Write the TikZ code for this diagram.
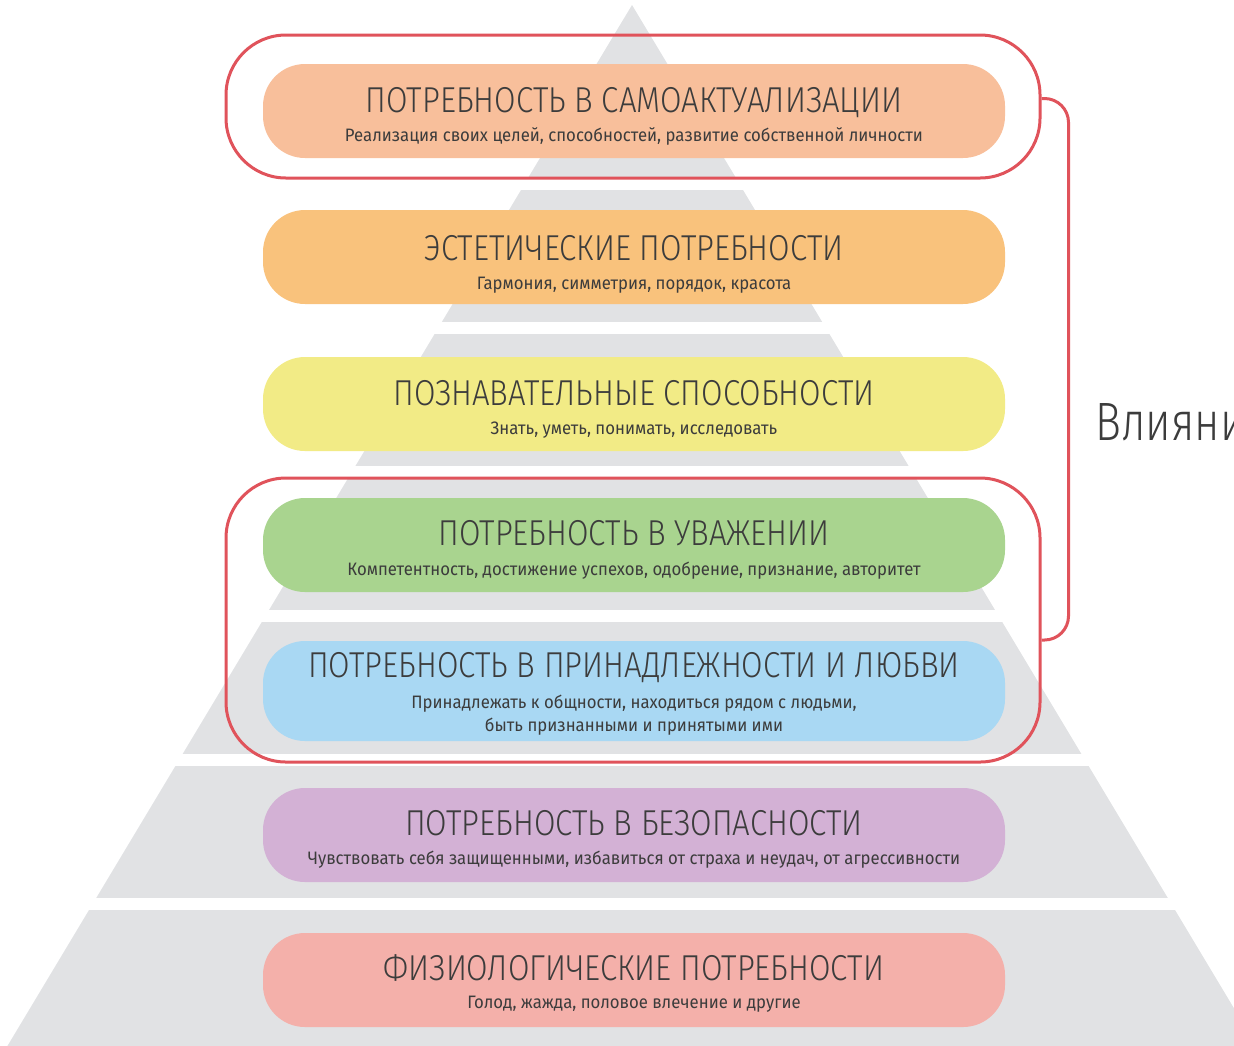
\documentclass[tikz,border=0pt]{standalone}
\usepackage{fontspec}
\setmainfont{Fira Sans}
\newfontfamily\titlefont[FakeStretch=0.865]{Fira Sans Light}
\newfontfamily\subfont[FakeStretch=0.93]{Fira Sans}
\newfontfamily\sidefont[FakeStretch=0.8]{Fira Sans Light}
\usetikzlibrary{positioning}
\definecolor{bandgray}{HTML}{E1E2E4}
\definecolor{linered}{HTML}{E0535B}
\definecolor{txtgray}{HTML}{3C3C3C}
\definecolor{pillself}{HTML}{F8BF9B}
\definecolor{pillaest}{HTML}{F9C27C}
\definecolor{pillcogn}{HTML}{F2EB86}
\definecolor{pillestm}{HTML}{A9D48F}
\definecolor{pilllove}{HTML}{A9D8F3}
\definecolor{pillsafe}{HTML}{D3B1D5}
\definecolor{pillphys}{HTML}{F4B0AA}
\begin{document}
\begin{tikzpicture}[x=0.5pt, y=-0.5pt,
    pill/.style={rounded corners=21pt, minimum width=371pt, minimum height=47pt, inner sep=0pt},
    ttl/.style={font=\titlefont\fontsize{18}{20}\selectfont, text=txtgray, anchor=base, inner sep=0pt},
    sub/.style={font=\subfont\fontsize{9}{11.5}\selectfont, text=txtgray, anchor=base, inner sep=0pt, align=center},
    grp/.style={draw=linered, line width=1.5pt, rounded corners=30pt, minimum width=407pt, inner sep=0pt},
    link/.style={draw=linered, line width=1.5pt, rounded corners=12pt}]
  \useasboundingbox (0,0) rectangle (1234,1045);
  \clip (0,0) rectangle (1234,1045);
  % pyramid: tip, then six trapezoid bands with white gaps
  \fill[bandgray] (632,5) -- (736,178) -- (528,178) -- cycle;
  \foreach \t in {190,334,478,622,766,910} {
    \pgfmathsetmacro\b{\t+140}
    \fill[bandgray] ({632-0.6*(\t-5)},\t) -- ({632+0.6*(\t-5)},\t)
      -- ({632+0.6*(\b-5)},\b) -- ({632-0.6*(\b-5)},\b) -- cycle;
  }
  \foreach \g in {322,466,610,754,898} {
    \fill[white] (0,\g) rectangle (1234,\g+12);
  }

  \node[pill, fill=pillself] (p1) at (634,111) {};
  \node[pill, fill=pillaest] (p2) at (634,257) {};
  \node[pill, fill=pillcogn] (p3) at (634,404) {};
  \node[pill, fill=pillestm] (p4) at (634,545) {};
  \node[pill, fill=pilllove, minimum height=50pt] (p5) at (634,691) {};
  \node[pill, fill=pillsafe] (p6) at (634,835) {};
  \node[pill, fill=pillphys] (p7) at (634,980) {};

  \node[ttl] (t1) at ([yshift=-0.5pt]p1.center) {ПОТРЕБНОСТЬ В САМОАКТУАЛИЗАЦИИ};
  \node[sub] (s1) at ([yshift=-15pt]p1.center) {Реализация своих целей, способностей, развитие собственной личности};
  \node[ttl] (t2) at ([yshift=-1.5pt]p2.center) {ЭСТЕТИЧЕСКИЕ ПОТРЕБНОСТИ};
  \node[sub] (s2) at ([yshift=-16pt]p2.center) {Гармония, симметрия, порядок, красота};
  \node[ttl] (t3) at ([yshift=-0.5pt]p3.center) {ПОЗНАВАТЕЛЬНЫЕ СПОСОБНОСТИ};
  \node[sub] (s3) at ([yshift=-15pt]p3.center) {Знать, уметь, понимать, исследовать};
  \node[ttl] (t4) at ([yshift=0pt]p4.center) {ПОТРЕБНОСТЬ В УВАЖЕНИИ};
  \node[sub] (s4) at ([yshift=-15pt]p4.center) {Компетентность, достижение успехов, одобрение, признание, авторитет};
  \node[ttl] (t5) at ([yshift=7pt]p5.center) {ПОТРЕБНОСТЬ В ПРИНАДЛЕЖНОСТИ И ЛЮБВИ};
  \node[sub] (s5) at ([yshift=-20pt]p5.center) {Принадлежать к общности, находиться рядом с людьми,\\быть признанными и принятыми ими};
  \node[ttl] (t6) at ([yshift=0pt]p6.center) {ПОТРЕБНОСТЬ В БЕЗОПАСНОСТИ};
  \node[sub] (s6) at ([yshift=-14.5pt]p6.center) {Чувствовать себя защищенными, избавиться от страха и неудач, от агрессивности};
  \node[ttl] (t7) at ([yshift=0pt]p7.center) {ФИЗИОЛОГИЧЕСКИЕ ПОТРЕБНОСТИ};
  \node[sub] (s7) at ([yshift=-14pt]p7.center) {Голод, жажда, половое влечение и другие};

  % red groups and the bracket joining them
  \node[grp, minimum height=71.5pt] (grp1) at (633,106.5) {};
  \node[grp, minimum height=142pt] (grp2) at (633,620) {};
  \draw[link] ([yshift=4pt]grp1.east) -- ++(27,0) |- ([yshift=-10pt]grp2.east);
  \node[font=\sidefont\fontsize{27}{30}\selectfont, text=txtgray, anchor=west, inner sep=0pt] (infl) at (1095,422) {Влияни};
\end{tikzpicture}
\end{document}
